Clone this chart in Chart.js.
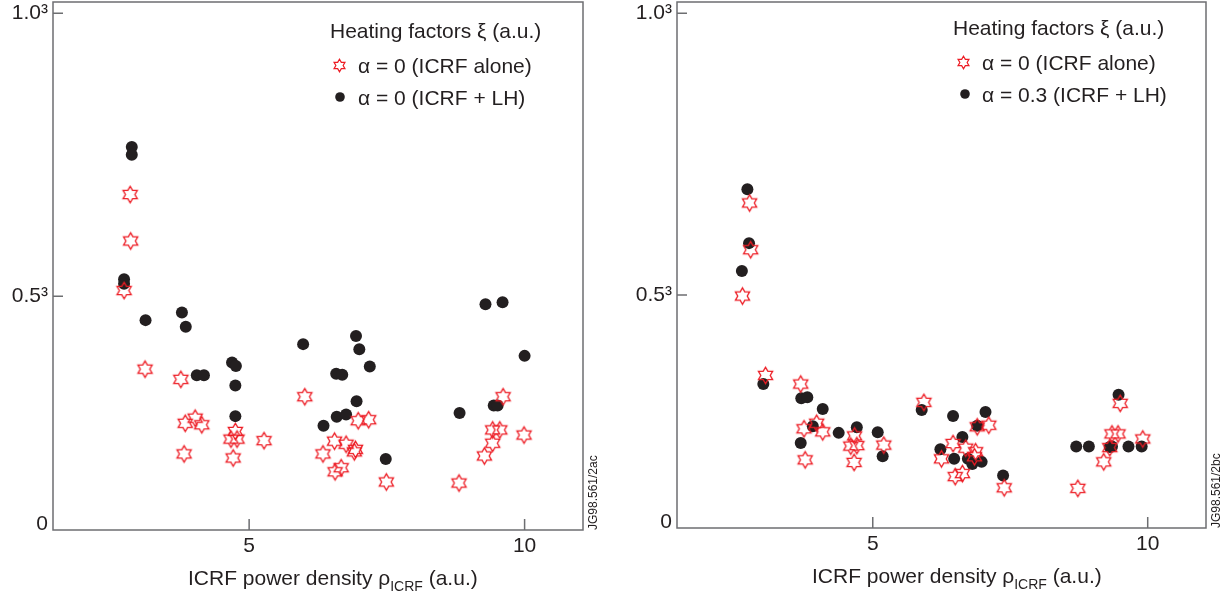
<!DOCTYPE html>
<html>
<head>
<meta charset="utf-8">
<script src="https://cdn.jsdelivr.net/npm/chart.js@4.4.1/dist/chart.umd.min.js"></script>
<style>
  body { margin:0; background:#fff; width:1232px; height:598px; overflow:hidden; position:relative;
         font-family:"Liberation Sans", Arial, sans-serif; color:#231f20; }
  canvas { position:absolute; top:-7px; }
  .txt { position:absolute; font-size:21px; line-height:24px; white-space:nowrap; }
  .txt sub { font-size:14px; vertical-align:-6px; line-height:0; }
  .code { position:absolute; font-size:12px; line-height:14px; white-space:nowrap;
          transform-origin:left top; transform:rotate(-90deg); }
  .mk { position:absolute; top:0; }
</style>
</head>
<body>
<canvas id="left" width="600" height="605" style="left:0"></canvas>
<canvas id="right" width="600" height="605" style="left:616px"></canvas>

<div class="txt" style="left:330px;top:19px">Heating factors ξ (a.u.)</div>
<div class="txt" style="left:358px;top:54px">α = 0 (ICRF alone)</div>
<div class="txt" style="left:358px;top:86px">α = 0 (ICRF + LH)</div>
<div class="txt" style="left:188px;top:566px">ICRF power density ρ<sub>ICRF</sub> (a.u.)</div>
<div class="code" style="left:586px;top:530px">JG98.561/2ac</div>

<div class="txt" style="left:953px;top:16px">Heating factors ξ (a.u.)</div>
<div class="txt" style="left:982px;top:51px">α = 0 (ICRF alone)</div>
<div class="txt" style="left:982px;top:83px">α = 0.3 (ICRF + LH)</div>
<div class="txt" style="left:812px;top:564px">ICRF power density ρ<sub>ICRF</sub> (a.u.)</div>
<div class="code" style="left:1209px;top:528px">JG98.561/2bc</div>

<script>
// data (x = ICRF power density, y = heating factor on the plot scale)
var leftStarX = [2.84,2.85,2.73,3.11,3.76,3.84,4.02,4.14,3.82,4.75,4.67,4.78,4.71,5.27,6.01,6.98,7.17,6.55,6.76,6.93,6.91,6.34,6.56,6.67,7.49,8.81,9.61,9.99,9.42,9.55,9.42,9.27]
var leftStarY = [0.645,0.554,0.457,0.303,0.283,0.197,0.207,0.194,0.137,0.181,0.166,0.166,0.129,0.163,0.249,0.202,0.204,0.162,0.156,0.146,0.141,0.137,0.102,0.110,0.082,0.080,0.249,0.174,0.184,0.184,0.158,0.133]
var leftDotX = [2.87,2.87,2.73,2.73,3.12,3.78,3.85,4.05,4.18,4.69,4.76,4.75,4.75,5.98,6.94,7.00,6.58,6.69,7.19,6.95,6.59,6.76,6.35,7.48,9.29,9.60,10.0,8.82,9.44,9.51]
var leftDotY = [0.738,0.723,0.479,0.470,0.399,0.414,0.386,0.291,0.291,0.316,0.309,0.271,0.211,0.352,0.368,0.342,0.294,0.292,0.308,0.240,0.210,0.214,0.192,0.127,0.430,0.434,0.329,0.217,0.232,0.232]

var rightStarX = [2.76,2.78,2.63,3.05,3.69,3.75,3.98,4.09,3.77,4.67,4.60,4.71,4.66,5.20,5.93,6.90,7.11,6.46,6.69,6.87,6.85,6.25,6.50,6.63,7.39,8.73,9.50,9.91,9.35,9.46,9.31,9.20]
var rightStarY = [0.627,0.535,0.444,0.288,0.271,0.183,0.194,0.177,0.122,0.169,0.149,0.150,0.117,0.151,0.235,0.187,0.190,0.154,0.145,0.138,0.128,0.124,0.089,0.095,0.067,0.066,0.233,0.163,0.173,0.173,0.146,0.118]
var rightDotX = [2.72,2.75,2.62,3.01,3.70,3.81,4.09,3.91,3.69,4.38,4.71,5.09,5.18,5.89,6.46,7.05,6.90,6.63,6.23,6.48,6.73,6.81,6.98,7.37,8.70,8.93,9.35,9.65,9.89,9.47,9.31]
var rightDotY = [0.654,0.548,0.493,0.271,0.243,0.245,0.222,0.188,0.155,0.175,0.186,0.176,0.129,0.220,0.208,0.216,0.189,0.167,0.143,0.124,0.124,0.114,0.118,0.091,0.148,0.148,0.148,0.148,0.148,0.250,0.147]

var xTicks = [5, 10]
var yTicks = [0, 0.446, 1.0]
var yTickLabels = ['0', '0.5³', '1.0³']

var RED = '#ed1c24'
var DARK = '#231f20'

function starCanvas(R, lw){
    var s = Math.ceil(2*R + 4)
    var c = document.createElement('canvas')
    c.width = s; c.height = s
    var g = c.getContext('2d')
    g.strokeStyle = RED; g.lineWidth = lw; g.lineJoin = 'miter'
    g.beginPath()
    for(var i=0;i<12;i++){
        var r = i%2==0 ? R : R/Math.sqrt(3)
        var a = -Math.PI/2 + i*Math.PI/6
        var px = s/2 + r*Math.cos(a), py = s/2 + r*Math.sin(a)
        if(i==0) g.moveTo(px,py); else g.lineTo(px,py)
    }
    g.closePath(); g.stroke()
    return c
}

function dotCanvas(r){
    var s = Math.ceil(2*r + 2)
    var c = document.createElement('canvas')
    c.width = s; c.height = s
    var g = c.getContext('2d')
    g.fillStyle = DARK
    g.beginPath(); g.arc(s/2, s/2, r, 0, Math.PI*2); g.fill()
    return c
}

function toPoints(xs, ys){
    var pts = []
    for(var i=0;i<xs.length;i++) pts.push({x: xs[i], y: ys[i]})
    return pts
}

// frame + inward tick marks
var framePlugin = {
    id: 'frame',
    beforeDatasetsDraw: function(chart){
        var ctx = chart.ctx, a = chart.chartArea
        var xs = chart.scales.x, ys = chart.scales.y
        ctx.save()
        ctx.strokeStyle = '#6d6e71'
        ctx.lineWidth = 1.5
        ctx.strokeRect(a.left, a.top, a.right - a.left, a.bottom - a.top)
        ctx.beginPath()
        xs.ticks.forEach(function(t){
            var px = xs.getPixelForValue(t.value)
            ctx.moveTo(px, a.bottom); ctx.lineTo(px, a.bottom - 11)
        })
        ys.ticks.forEach(function(t){
            if(t.value == 0) return
            var py = ys.getPixelForValue(t.value)
            ctx.moveTo(a.left, py); ctx.lineTo(a.left + 10, py)
        })
        ctx.stroke()
        ctx.restore()
    }
}

var bigStar = starCanvas(8.2, 1.3)

function makeChart(id, stars, dots, yw, xh, pad){
    var tickFont = {family: '"Liberation Sans", Arial, sans-serif', size: 21}
    return new Chart(document.getElementById(id), {
        type: 'scatter',
        data: {
            datasets: [{
                label: 'stars',
                data: stars,
                pointStyle: bigStar,
                pointRadius: 8,
                pointHoverRadius: 8
            },{
                label: 'dots',
                data: dots,
                pointStyle: 'circle',
                pointRadius: 6,
                pointHoverRadius: 6,
                backgroundColor: DARK,
                borderWidth: 0
            }]
        },
        options: {
            responsive: false,
            animation: false,
            layout: {padding: pad},
            plugins: {legend: {display: false}, tooltip: {enabled: false}},
            scales: {
                x: {
                    type: 'linear', min: 1.44, max: 11.06,
                    grid: {display: false, drawTicks: false},
                    border: {display: false},
                    afterBuildTicks: function(s){ s.ticks = xTicks.map(function(v){ return {value: v} }) },
                    afterFit: function(s){ s.height = xh; s.paddingLeft = 0; s.paddingRight = 0 },
                    ticks: {color: DARK, font: tickFont, padding: 4, maxRotation: 0}
                },
                y: {
                    type: 'linear', min: -0.012, max: 1.022,
                    grid: {display: false, drawTicks: false},
                    border: {display: false},
                    afterBuildTicks: function(s){ s.ticks = yTicks.map(function(v){ return {value: v} }) },
                    afterFit: function(s){ s.width = yw; s.paddingTop = 0; s.paddingBottom = 0 },
                    ticks: {
                        color: DARK, font: tickFont, padding: 5,
                        callback: function(v){ return yTickLabels[yTicks.indexOf(v)] }
                    }
                }
            }
        },
        plugins: [framePlugin]
    })
}

makeChart('left', toPoints(leftStarX, leftStarY), toPoints(leftDotX, leftDotY), 53, 68, {top: 2, right: 17, left: 0, bottom: 0})
makeChart('right', toPoints(rightStarX, rightStarY), toPoints(rightDotX, rightDotY), 61, 70, {top: 1, right: 10, left: 0, bottom: 0})

// legend markers
function placeMarker(c, cx, cy){
    c.className = 'mk'
    c.style.left = (cx - c.width/2) + 'px'
    c.style.top = (cy - c.height/2) + 'px'
    document.body.appendChild(c)
}
placeMarker(starCanvas(6.3, 1.2), 339, 65)
placeMarker(dotCanvas(4.8), 340, 97)
placeMarker(starCanvas(6.3, 1.2), 963, 62)
placeMarker(dotCanvas(4.8), 965, 94)
</script>
</body>
</html>
